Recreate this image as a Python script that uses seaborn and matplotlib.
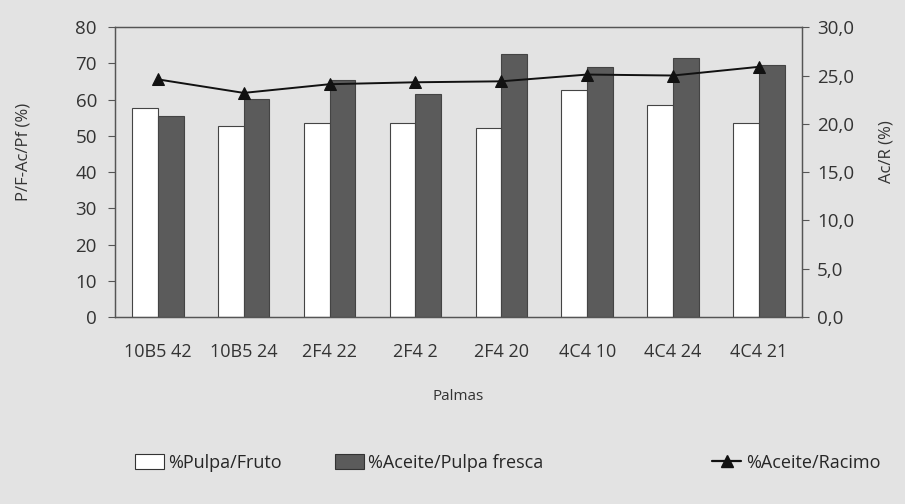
import numpy as np
import pandas as pd
import matplotlib
matplotlib.use("Agg")
import matplotlib.pyplot as plt
from matplotlib.patches import Patch
from matplotlib.lines import Line2D
from matplotlib.ticker import FixedLocator, FuncFormatter
import seaborn as sns

# Data
palmas = ["10B5 42", "10B5 24", "2F4 22", "2F4 2", "2F4 20", "4C4 10", "4C4 24", "4C4 21"]
pulpa_fruto = [57.7, 52.8, 53.6, 53.6, 52.2, 62.8, 58.4, 53.6]
aceite_pulpa = [55.6, 60.3, 65.5, 61.7, 72.5, 69.0, 71.5, 69.5]
aceite_racimo = [24.6, 23.2, 24.1, 24.3, 24.4, 25.1, 25.0, 25.9]

serie_names = ["%Pulpa/Fruto", "%Aceite/Pulpa fresca", "%Aceite/Racimo"]

bg = "#e3e3e3"
dark = "#5b5b5b"
txt = "#333333"

sns.set_theme(style="white")
plt.rcParams["font.family"] = ["Open Sans", "DejaVu Sans"]

df = pd.DataFrame({
    "Palma": palmas * 2,
    "valor": pulpa_fruto + aceite_pulpa,
    "serie": [serie_names[0]] * len(palmas) + [serie_names[1]] * len(palmas),
})

fig = plt.figure(figsize=(9.05, 5.04), dpi=100, facecolor=bg)
ax = fig.add_axes([0.127, 0.371, 0.759, 0.575])
ax.set_facecolor(bg)

sns.barplot(data=df, x="Palma", y="valor", hue="serie", order=palmas,
            hue_order=serie_names[:2], palette=["white", dark], width=0.6,
            edgecolor="#444444", linewidth=0.8, legend=False, ax=ax)

ax.set_ylim(0, 80)
ax.yaxis.set_major_locator(FixedLocator(np.arange(0, 81, 10)))
ax.set_xlabel("Palmas", fontsize=11, color=txt, labelpad=20)
ax.set_ylabel("P/F-Ac/Pf (%)", fontsize=12, color=txt)
ax.yaxis.set_label_coords(-0.122, 0.57)
ax.tick_params(axis="y", direction="out", length=5, width=0.8, color="#555555",
               labelsize=13.5, labelcolor=txt, left=True, pad=8)
ax.tick_params(axis="x", length=0, labelsize=13, labelcolor=txt, pad=19)

for s in ax.spines.values():
    s.set_visible(True)
    s.set_color("#555555")
    s.set_linewidth(0.9)

ax2 = ax.twinx()
sns.lineplot(x=np.arange(len(palmas)), y=aceite_racimo, color="#111111",
             marker="^", markersize=9, markeredgecolor="#111111",
             linewidth=1.4, ax=ax2)
ax2.set_ylim(0, 30)
ax2.set_xlim(-0.5, len(palmas) - 0.5)
ax2.yaxis.set_major_locator(FixedLocator(np.arange(0, 31, 5)))
ax2.yaxis.set_major_formatter(FuncFormatter(lambda v, p: f"{v:.1f}".replace(".", ",")))
ax2.set_ylabel("Ac/R (%)", fontsize=12, color=txt)
ax2.yaxis.set_label_coords(1.112, 0.57)
ax2.tick_params(axis="y", direction="out", length=5, width=0.8, color="#555555",
                labelsize=13.5, labelcolor=txt, right=True, pad=6)
for s in ax2.spines.values():
    s.set_color("#555555")
    s.set_linewidth(0.9)

# Legend entries spread along the bottom
handles = [
    Patch(facecolor="white", edgecolor="#333333", linewidth=0.8),
    Patch(facecolor=dark, edgecolor="#333333", linewidth=0.8),
    Line2D([0], [0], color="#111111", marker="^", markersize=8, linewidth=1.6),
]
positions = [0.149, 0.370, 0.787]
for h, name, xpos in zip(handles, serie_names, positions):
    fig.legend([h], [name], loc="center left", bbox_to_anchor=(xpos, 0.081),
               frameon=False, handlelength=1.6, handleheight=0.9, handletextpad=0.25,
               borderaxespad=0, borderpad=0,
               prop={"family": ["Open Sans", "DejaVu Sans"], "size": 13})

fig.savefig("out.png", dpi=100, facecolor=bg)
